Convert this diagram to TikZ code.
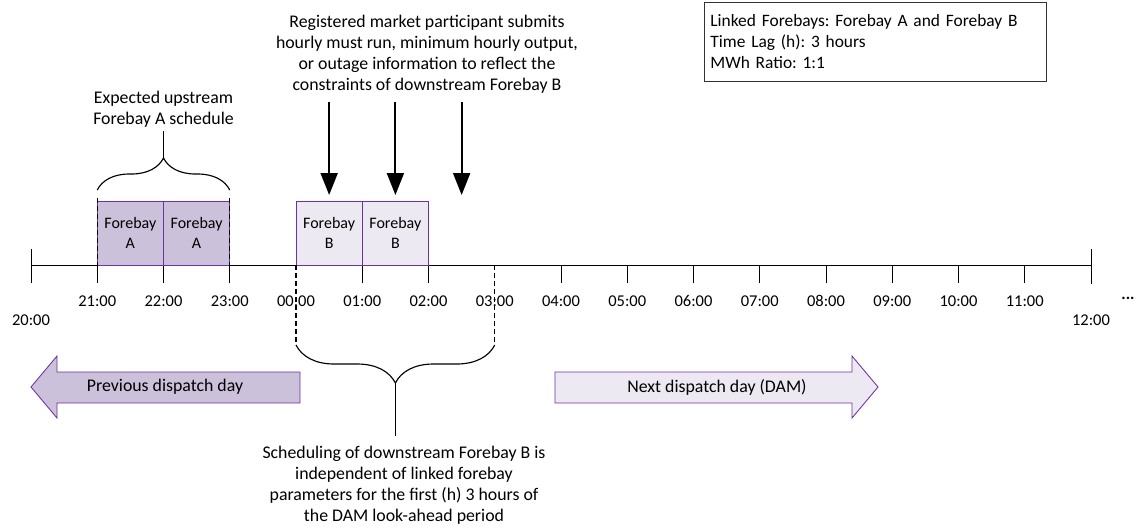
\documentclass[tikz,border=0pt]{standalone}
\usepackage{fontspec}
\setmainfont{Carlito}
\frenchspacing
\usetikzlibrary{arrows.meta,decorations.pathreplacing}
\definecolor{fbline}{HTML}{7030A0}
\definecolor{fbdark}{HTML}{CCC1DA}
\definecolor{fblight}{HTML}{EDE9F2}
\tikzset{
	fbbox/.style={draw=fbline, line width=0.3mm, minimum width=66.25pt, minimum height=64pt, align=center, inner sep=0pt, font=\fontsize{16}{20}\selectfont},
	hourlbl/.style={font=\fontsize{16.5}{18}\selectfont, inner sep=0pt},
	cutline/.style={line width=0.5mm, dash pattern=on 5pt off 3pt},
	curly/.style={decorate, decoration={brace, amplitude=#1}, line width=0.4mm},
	push/.style={line width=0.7mm, -{Triangle[length=22pt,width=17pt]}},
	dayarrow/.style={draw=fbline, line width=0.3mm}
}
\def\hx#1{31+66.25*#1}

\begin{document}
\begin{tikzpicture}[x=1pt, y=-1pt, font=\fontsize{17.8}{21}\selectfont]
		%%%%% START %%%%%
		\useasboundingbox (0,0) rectangle (1142,531);
		
		% time axis
		\draw[line width=0.3mm] (31,265) -- (1091,265);
		\draw[line width=0.3mm] (31,249) -- (31,283);
		\draw[line width=0.3mm] (1091,249) -- (1091,284);
		\foreach \h in {1,2,3,5,6,8,9,10,11,12,13,14,15}
			\draw[line width=0.3mm] ({\hx{\h}},265) -- ({\hx{\h}},283);
		\foreach \t [count=\h] in {21:00,22:00,23:00,00:00,01:00,02:00,03:00,04:00,05:00,06:00,07:00,08:00,09:00,10:00,11:00}
			\node[hourlbl] (t\h) at ({\hx{\h}},301) {\t};
		\node[hourlbl] (t0) at (31,320) {20:00};
		\node[hourlbl] (t16) at (1091,320) {12:00};
		\node[hourlbl] (more) at (1128,298) {\textbf{...}};
		
		% upstream forebay A
		\node[fbbox, fill=fbdark] (fa1) at ({\hx{1.5}},233) {Forebay\\A};
		\node[fbbox, fill=fbdark] (fa2) at ({\hx{2.5}},233) {Forebay\\A};
		\draw[cutline] ({\hx{1}},198) -- ({\hx{1}},272);
		\draw[cutline] ({\hx{3}},198) -- ({\hx{3}},272);
		\draw[curly=32pt] ({\hx{1}},190) -- ({\hx{3}},190);
		\coordinate (upbrace) at ({\hx{2}},158);
		\node[align=center, anchor=south] (uptext) at ({\hx{2}},131) {Expected upstream\\Forebay A schedule};
		\draw[line width=0.4mm] (upbrace) -- (uptext.south);
		
		% downstream forebay B
		\node[fbbox, fill=fblight] (fb1) at ({\hx{4.5}},233) {Forebay\\B};
		\node[fbbox, fill=fblight] (fb2) at ({\hx{5.5}},233) {Forebay\\B};
		\draw[cutline] ({\hx{4}},265) -- ({\hx{4}},345);
		\draw[cutline] ({\hx{7}},265) -- ({\hx{7}},345);
		\draw[curly=38pt] ({\hx{7}},345) -- ({\hx{4}},345);
		\coordinate (dnbrace) at ({\hx{5.5}},383);
		\coordinate (dnend) at ({\hx{5.5}},436);
		\draw[line width=0.4mm] (dnbrace) -- (dnend);
		\node[align=center, anchor=north] (dntext) at (404,443) {Scheduling of downstream Forebay B is\\independent of linked forebay\\parameters for the first (h) 3 hours of\\the DAM look-ahead period};
		
		% submissions
		\node[align=center, anchor=north] (subtext) at (427,12) {Registered market participant submits\\hourly must run, minimum hourly output,\\or outage information to reflect the\\constraints of downstream Forebay B};
		\foreach \h [count=\i] in {4.5,5.5,6.5} {
			\coordinate (s\i) at ({\hx{\h}},102);
			\coordinate (e\i) at ({\hx{\h}},195);
			\draw[push] (s\i) -- (e\i);
		}
		
		% parameters
		\node[draw=black!80, line width=0.3mm, align=left, anchor=north west, text width=330pt, minimum height=79pt, inner sep=6pt, font=\fontsize{17.4}{21}\selectfont] (params) at (704,2) {Linked Forebays: Forebay A and Forebay B\\Time Lag (h): 3 hours\\MWh Ratio: 1:1};
		
		% dispatch days
		\draw[dayarrow, fill=fbdark] (300,372) -- (57,372) -- (57,356) -- (31,387) -- (57,418) -- (57,403) -- (300,403) -- cycle;
		\node (prevday) at (165,387) {Previous dispatch day};
		\draw[dayarrow, fill=fblight] (555,372) -- (852,372) -- (852,356) -- (878,387) -- (852,418) -- (852,403) -- (555,403) -- cycle;
		\node (nextday) at (717,387) {Next dispatch day (DAM)};
		
		%%%%% END %%%%%
\end{tikzpicture}
\end{document}
